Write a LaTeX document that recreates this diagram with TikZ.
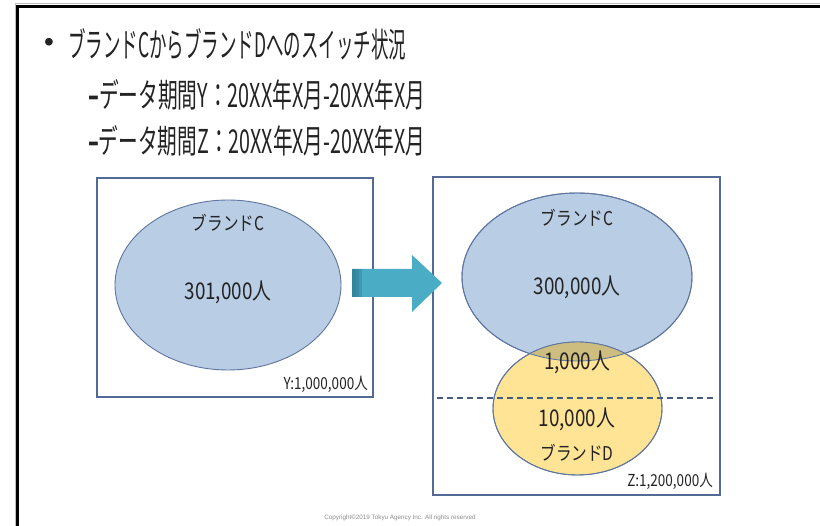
\documentclass[tikz,border=0pt]{standalone}
\usepackage{fontspec}
\usetikzlibrary{shapes.geometric}
\setmainfont{Liberation Sans}
\newfontfamily\jp{Noto Sans CJK JP}
\newfontfamily\jpn[FakeStretch=0.82]{Noto Sans CJK JP}
\definecolor{boxblue}{RGB}{84,106,150}
\definecolor{cfill}{RGB}{185,205,229}
\definecolor{cline}{RGB}{96,118,160}
\definecolor{dfill}{RGB}{255,228,150}
\definecolor{ovl}{RGB}{205,190,128}
\definecolor{arrowc}{RGB}{75,172,198}
\definecolor{arrowd}{RGB}{49,133,156}
\definecolor{txt}{RGB}{35,35,35}
\begin{document}
\begin{tikzpicture}[x=1pt,y=-1pt,
  panel/.style={draw=boxblue,line width=1.1pt},
  setc/.style={ellipse,draw=cline,fill=cfill,line width=0.9pt,inner sep=0},
  setd/.style={ellipse,draw=cline,fill=dfill,line width=0.9pt,inner sep=0},
  lab/.style={inner sep=0,text=txt,font=\jpn\fontsize{19}{19}\selectfont},
  num/.style={inner sep=0,text=txt,font=\jpn\fontsize{23}{23}\selectfont},
  corner/.style={inner sep=0,text=txt,font=\jpn\fontsize{16.5}{16.5}\selectfont,anchor=east},
  head/.style={inner sep=0,text=txt,anchor=west}]
\useasboundingbox (0,0) rectangle (820,526);
\clip (0,0) rectangle (820,526);
\fill[white] (0,0) rectangle (820,526);
% outer frame
\draw[black!25,line width=1pt] (15,530) -- (15,4) -- (825,4);
\draw[black,line width=2.2pt] (17.5,530) -- (17.5,6.5) -- (825,6.5);
% title
\node[inner sep=0,text=txt] (bul) at (49,45) {\fontsize{28}{28}\selectfont\textbullet};
\node[head] (t1) at (68,44) {\resizebox{338pt}{29pt}{\jp ブランドCからブランドDへのスイッチ状況}};
\node[head] (t2) at (88,95) {\resizebox{337pt}{28pt}{\jp\textbf{–}データ期間Y：20XX年X月-20XX年X月}};
\node[head] (t3) at (88,141) {\resizebox{337pt}{28pt}{\jp\textbf{–}データ期間Z：20XX年X月-20XX年X月}};
% left panel
\node[panel,draw,minimum width=276pt,minimum height=219pt,inner sep=0] (pl) at (235,287.5) {};
\node[setc,minimum width=226pt,minimum height=170pt] (cl) at (228,285) {};
\node[lab] (cln) at (228,223) {ブランドC};
\node[num] (clv) at (228,292) {301,000人};
\node[corner] (yl) at (368,384) {Y:1,000,000人};
% right panel
\node[panel,draw,minimum width=287pt,minimum height=318pt,inner sep=0] (pr) at (576.5,336) {};
\node[setc,minimum width=230pt,minimum height=168pt] (cr) at (577,277) {};
\node[setd,minimum width=169pt,minimum height=133pt] (dr) at (577.5,408.5) {};
\begin{scope}
  \clip (577,277) ellipse [x radius=115pt,y radius=84pt];
  \fill[ovl] (577.5,408.5) ellipse [x radius=84.5pt,y radius=66.5pt];
\end{scope}
\draw[cline,line width=0.9pt] (577,277) ellipse [x radius=115pt,y radius=84pt];
\draw[cline,line width=0.9pt] (577.5,408.5) ellipse [x radius=84.5pt,y radius=66.5pt];
\coordinate (dl) at (437,398);
\coordinate (dR) at (716,398);
\draw[boxblue!85!black,line width=1.3pt,dash pattern=on 6pt off 4pt] (dl) -- (dR);
\node[lab] (crn) at (577,218) {ブランドC};
\node[num] (crv) at (577,287) {300,000人};
\node[num] (ov) at (577,362) {1,000人};
\node[num] (dv) at (577,419) {10,000人};
\node[lab] (drn) at (577,453) {ブランドD};
\node[corner] (zl) at (713,481) {Z:1,200,000人};
% arrow
\fill[arrowc] (352,269) -- (412,269) -- (412,255) -- (442,283) -- (412,312) -- (412,297) -- (352,297) -- cycle;
\fill[arrowd] (352,269) rectangle (356,297);
\fill[arrowd!80!arrowc] (356,269) rectangle (359,297);
\fill[arrowd!50!arrowc] (359,269) rectangle (362,297);
% copyright
\node[inner sep=0,text=black!45,font=\fontsize{6.3}{7}\selectfont] (copy) at (400,518) {Copyright©2019 Tokyu Agency Inc. All rights reserved};
\end{tikzpicture}
\end{document}
